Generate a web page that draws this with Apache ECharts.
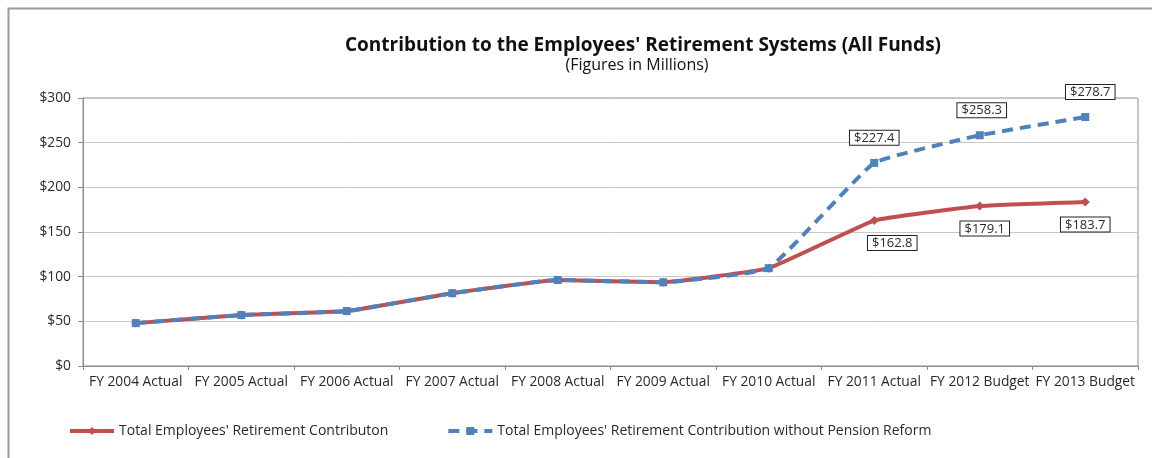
<!DOCTYPE html>
<html>
<head>
<meta charset="utf-8">
<script src="https://cdn.jsdelivr.net/npm/echarts@6/dist/echarts.min.js"></script>
<style>
  html, body { margin: 0; padding: 0; background: #fff; }
  #chart { width: 1152px; height: 458px; }
</style>
</head>
<body>
<div id="chart"></div>
<script>
// Fiscal years on the category axis
const categories = [
  'FY 2004 Actual', 'FY 2005 Actual', 'FY 2006 Actual', 'FY 2007 Actual', 'FY 2008 Actual',
  'FY 2009 Actual', 'FY 2010 Actual', 'FY 2011 Actual', 'FY 2012 Budget', 'FY 2013 Budget'
];
// Contributions, $ millions
const totalContribution = [48.0, 57.0, 61.5, 81.5, 96.3, 93.7, 109.5, 162.8, 179.1, 183.7];
const withoutReform = [48.0, 57.0, 61.5, 81.5, 96.3, 93.7, 109.5, 227.4, 258.3, 278.7];
// Only the last three years carry value labels
const labelFrom = 7;
// Horizontal nudges for the three boxed labels of each line
const redLabelShift = [18, 5, 0];
const blueLabelShift = [0, 2, 5];

const FONT = 'Open Sans';
const RED = '#C0504D';
const BLUE = '#4F81BD';
const TEXT = '#2a2a2a';

const boxLabel = {
  show: true,
  formatter: p => '$' + p.value.toFixed(1),
  fontFamily: FONT,
  fontSize: 13,
  color: TEXT,
  backgroundColor: '#fff',
  borderColor: '#222',
  borderWidth: 1,
  padding: [1, 4, 0, 4]
};

function withLabels(values, position, distance, shifts) {
  return values.map((v, i) => {
    if (i < labelFrom) return { value: v };
    const label = Object.assign({}, boxLabel, {
      position: position, distance: distance, offset: [shifts[i - labelFrom], 0]
    });
    return { value: v, label: label };
  });
}

const chart = echarts.init(document.getElementById('chart'), null, { renderer: 'canvas' });
chart.setOption({
  animation: false,
  backgroundColor: '#fff',
  title: [
    {
      text: "Contribution to the Employees' Retirement Systems (All Funds)",
      left: 638, top: 31, textAlign: 'center',
      textStyle: { fontFamily: FONT, fontWeight: 'bold', fontSize: 19, color: '#111' }
    },
    {
      text: '(Figures in Millions)',
      left: 632, top: 52, textAlign: 'center',
      textStyle: { fontFamily: FONT, fontWeight: 'normal', fontSize: 16, color: '#111' }
    }
  ],
  graphic: [
    {
      type: 'rect', left: 6, top: 6, silent: true,
      shape: { x: 0, y: 0, width: 1200, height: 500 },
      style: { fill: 'none', stroke: '#9a9a9a', lineWidth: 2 }
    }
  ],
  legend: {
    left: 63, top: 419,
    itemWidth: 44, itemHeight: 10, itemGap: 58,
    textStyle: { fontFamily: FONT, fontSize: 14, color: TEXT },
    lineStyle: { width: 4 },
    data: [
      { name: "Total Employees' Retirement Contributon" },
      { name: "Total Employees' Retirement Contribution without Pension Reform" }
    ]
  },
  grid: {
    left: 83, right: 14, top: 98, bottom: 92,
    show: true, borderColor: '#8c8c8c', borderWidth: 1, backgroundColor: 'transparent'
  },
  xAxis: {
    type: 'category',
    data: categories,
    boundaryGap: true,
    axisLine: { lineStyle: { color: '#8c8c8c' } },
    axisTick: { show: true, length: 4, lineStyle: { color: '#8c8c8c' } },
    axisLabel: { fontFamily: FONT, fontSize: 13.8, color: TEXT, margin: 9, interval: 0 }
  },
  yAxis: {
    type: 'value',
    min: 0, max: 300, interval: 50,
    axisLine: { show: true, lineStyle: { color: '#8c8c8c' } },
    axisTick: { show: true, length: 5, lineStyle: { color: '#8c8c8c' } },
    axisLabel: { fontFamily: FONT, fontSize: 13.8, color: TEXT, margin: 12, formatter: v => '$' + v },
    splitLine: { lineStyle: { color: '#c8c8c8', width: 1 } }
  },
  series: [
    {
      name: "Total Employees' Retirement Contributon",
      type: 'line',
      data: withLabels(totalContribution, 'bottom', 11, redLabelShift),
      smooth: 0.1,
      symbol: 'diamond', symbolSize: 9,
      itemStyle: { color: RED },
      lineStyle: { color: RED, width: 4 },
      z: 2
    },
    {
      name: "Total Employees' Retirement Contribution without Pension Reform",
      type: 'line',
      data: withLabels(withoutReform, 'top', 14, blueLabelShift),
      smooth: 0.1,
      symbol: 'rect', symbolSize: 8,
      itemStyle: { color: BLUE },
      lineStyle: { color: BLUE, width: 4, type: [11, 7] },
      z: 3
    }
  ]
});
</script>
</body>
</html>
